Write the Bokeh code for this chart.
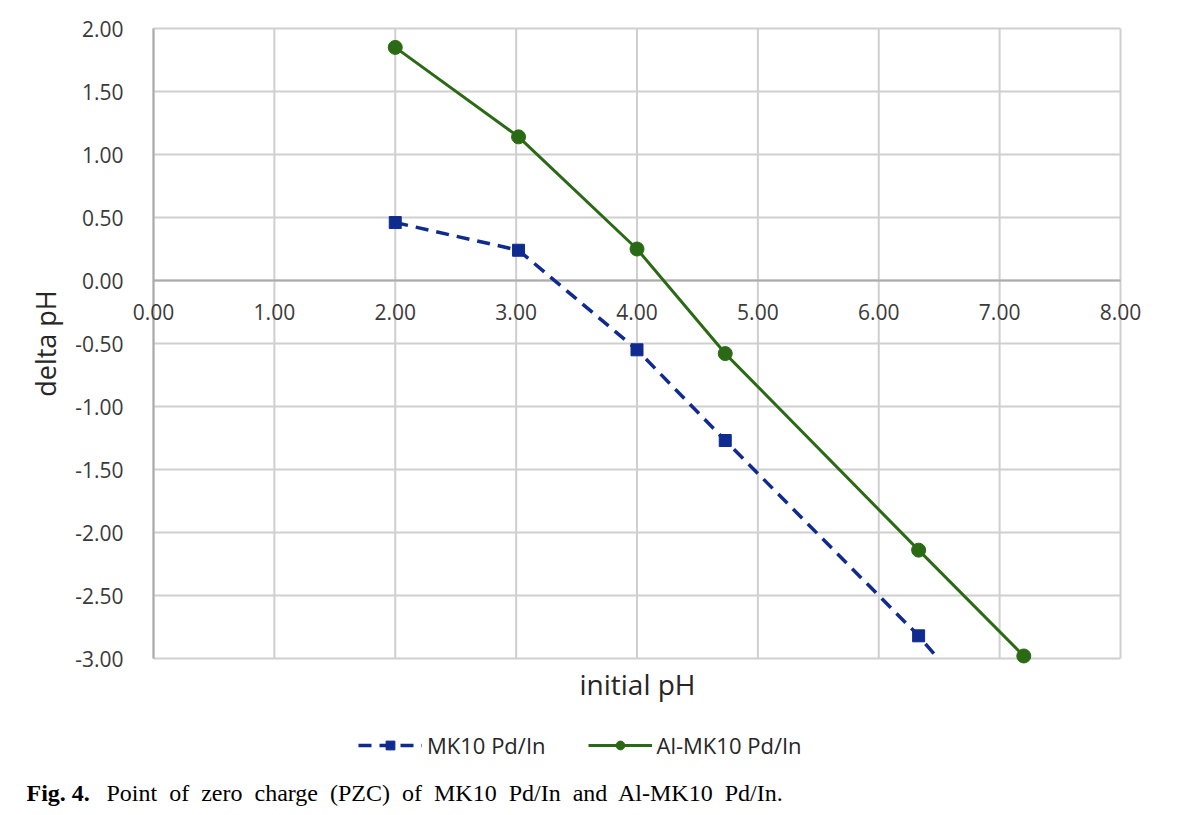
import math
from bokeh.plotting import figure
from bokeh.models import Legend, LegendItem, Label, ColumnDataSource
from bokeh.embed import file_html
from bokeh.resources import INLINE

# ---------------- data ----------------
mk10_x = [2.00, 3.02, 4.00, 4.73, 6.33, 7.20]
mk10_y = [0.46, 0.24, -0.55, -1.27, -2.82, -3.80]
al_x = [2.00, 3.02, 4.00, 4.73, 6.33, 7.20]
al_y = [1.85, 1.14, 0.25, -0.58, -2.14, -2.98]
x_ticks = [0, 1, 2, 3, 4, 5, 6, 7, 8]
y_ticks = [-3.0, -2.5, -2.0, -1.5, -1.0, -0.5, 0.0, 0.5, 1.0, 1.5, 2.0]
x_tick_labels = ["%.2f" % t for t in x_ticks]
y_tick_labels = ["%.2f" % t for t in y_ticks]

BLUE = "#102B8F"
GREEN = "#2B6A14"
GRID = "#CFCFCF"
AXIS = "#ABABAB"
FONT = "Open Sans"
TICK_COLOR = "#3A3A3A"
TITLE_COLOR = "#262626"

XMIN, XMAX = min(x_ticks), max(x_ticks)
YMIN, YMAX = min(y_ticks), max(y_ticks)

W, H = 1183, 807
# plotting box (canvas px): left, top, right, bottom
BOX_L, BOX_T, BOX_R, BOX_B = 153, 28, 1120, 658
sx = (BOX_R - BOX_L) / (XMAX - XMIN)
sy = (BOX_B - BOX_T) / (YMAX - YMIN)
x_range = (XMIN - BOX_L / sx, XMAX + (W - BOX_R) / sx)
y_range = (YMIN - (H - BOX_B) / sy, YMAX + BOX_T / sy)

p = figure(width=W, height=H, x_range=x_range, y_range=y_range,
           output_backend="svg", toolbar_location=None,
           x_axis_location=None, y_axis_location=None,
           min_border=0)
p.outline_line_color = None
p.grid.visible = False


def clip_to_box(xs, ys):
    """keep the polyline inside YMIN..YMAX (cut at the box edge)"""
    ox, oy = [], []
    for i in range(len(xs)):
        if ys[i] >= YMIN:
            ox.append(xs[i]); oy.append(ys[i])
        elif i > 0 and ys[i - 1] >= YMIN:
            t = (ys[i - 1] - YMIN) / (ys[i - 1] - ys[i])
            ox.append(xs[i - 1] + t * (xs[i] - xs[i - 1])); oy.append(YMIN)
    return ox, oy


# grid lines
p.segment(x0=x_ticks, y0=[YMIN] * len(x_ticks), x1=x_ticks, y1=[YMAX] * len(x_ticks),
          line_color=GRID, line_width=2)
p.segment(x0=[XMIN] * len(y_ticks), y0=y_ticks, x1=[XMAX] * len(y_ticks), y1=y_ticks,
          line_color=GRID, line_width=2)
# axis lines (y axis at x=0, x axis at y=0)
p.segment(x0=[XMIN], y0=[YMIN], x1=[XMIN], y1=[YMAX], line_color=AXIS, line_width=2)
p.segment(x0=[XMIN], y0=[0], x1=[XMAX], y1=[0], line_color=AXIS, line_width=2)

# tick labels
p.text(x=x_ticks, y=[0] * len(x_ticks), text=x_tick_labels, y_offset=31,
       text_align="center", text_baseline="middle", text_font_size="21px",
       text_font={"value": FONT}, text_color=TICK_COLOR)
p.text(x=[XMIN] * len(y_ticks), y=y_ticks, text=y_tick_labels, x_offset=-30,
       text_align="right", text_baseline="middle", text_font_size="21px",
       text_font={"value": FONT}, text_color=TICK_COLOR)

# series
cx, cy = clip_to_box(mk10_x, mk10_y)
src1_line = ColumnDataSource(dict(x=cx, y=cy))
src1_pts = ColumnDataSource(dict(x=[x for x, y in zip(mk10_x, mk10_y) if y >= YMIN],
                                 y=[y for y in mk10_y if y >= YMIN]))
src2 = ColumnDataSource(dict(x=al_x, y=al_y))

l1 = p.line("x", "y", source=src1_line, line_color=BLUE, line_width=3.5, line_dash="13 8")
m1 = p.scatter("x", "y", source=src1_pts, marker="square", size=12, fill_color=BLUE, line_color=BLUE)
l2 = p.line("x", "y", source=src2, line_color=GREEN, line_width=3)
m2 = p.scatter("x", "y", source=src2, marker="circle", size=14, fill_color=GREEN, line_color=GREEN)

legend = Legend(items=[LegendItem(label="MK10 Pd/In", renderers=[l1, m1]),
                       LegendItem(label="Al-MK10 Pd/In", renderers=[l2, m2])],
                orientation="horizontal", location=(358, H - 760),
                border_line_color=None, background_fill_alpha=0,
                label_text_font=FONT, label_text_font_size="22px",
                label_text_color=TITLE_COLOR, glyph_width=64, glyph_height=22,
                spacing=42, label_standoff=5, padding=0, margin=0)
p.add_layout(legend, "center")

# axis titles
p.add_layout(Label(x=45, y=H - 343, x_units="screen", y_units="screen", text="delta pH",
                   angle=math.pi / 2, text_align="center", text_baseline="middle",
                   text_font=FONT, text_font_size="27px", text_color=TITLE_COLOR))
p.add_layout(Label(x=637, y=H - 683, x_units="screen", y_units="screen", text="initial pH",
                   text_align="center", text_baseline="middle",
                   text_font=FONT, text_font_size="28px", text_color=TITLE_COLOR))

# caption (justified in the original, so the word gaps are wider)
caption = "Point of zero charge (PZC) of MK10 Pd/In and Al-MK10 Pd/In."
p.add_layout(Label(x=26, y=H - 792, x_units="screen", y_units="screen", text="Fig. 4.",
                   text_font="Liberation Serif", text_font_size="24px", text_font_style="bold",
                   text_color="#000000", text_baseline="middle"))
p.add_layout(Label(x=106, y=H - 792, x_units="screen", y_units="screen",
                   text=caption.replace(" ", "\u00a0 "),
                   text_font="Liberation Serif", text_font_size="24px",
                   text_color="#000000", text_baseline="middle"))

open("out.html", "w").write(file_html(p, INLINE))
